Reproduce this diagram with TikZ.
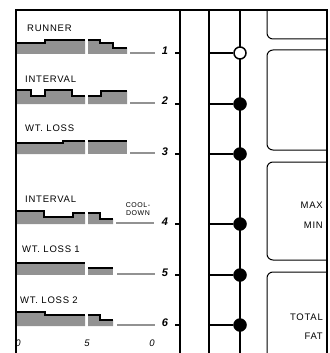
\documentclass[tikz,border=0pt]{standalone}
\usepackage{fontspec}
\setmainfont{Liberation Sans}
\newfontfamily\lblfont[LetterSpace=8]{Liberation Sans}
\usetikzlibrary{backgrounds}
\pgfdeclarelayer{edgelayer}
\pgfdeclarelayer{nodelayer}
\pgfsetlayers{edgelayer,nodelayer,main}
\definecolor{bargray}{RGB}{146,146,146}
\tikzset{font=\lblfont\fontsize{9.5}{10}\selectfont}
\tikzstyle{none}=[inner sep=0pt]
\tikzstyle{dot}=[circle,fill=black,draw,inner sep=0pt,minimum size=13pt]
\tikzstyle{ring}=[circle,fill=white,draw,line width=1.5pt,inner sep=0pt,minimum size=12pt]
\tikzstyle{wire}=[line width=2pt]
\tikzstyle{bar}=[fill=bargray]
\tikzstyle{trace}=[line width=2pt]
\tikzstyle{lead}=[draw=bargray,line width=1.5pt]
\tikzstyle{panel}=[line width=1pt,rounded corners=6pt]
\tikzstyle{lbl}=[inner sep=0pt,anchor=west]
\tikzstyle{side}=[inner sep=0pt,anchor=east]
\tikzstyle{num}=[inner sep=0pt,font=\bfseries\itshape\fontsize{11}{12}\selectfont]
\tikzstyle{scl}=[inner sep=0pt,font=\itshape\fontsize{9.5}{10}\selectfont]

\begin{document}
\begin{tikzpicture}[x=1pt,y=-1pt]
	\useasboundingbox (0,0) rectangle (329,353);
	\begin{pgfonlayer}{nodelayer}
		\node [style=ring] (c1) at (240, 53) {};
		\node [style=dot] (c2) at (240, 104) {};
		\node [style=dot] (c3) at (240, 154) {};
		\node [style=dot] (c4) at (240, 224) {};
		\node [style=dot] (c5) at (240, 275) {};
		\node [style=dot] (c6) at (240, 325) {};
		\coordinate (h1) at (209, 53);
		\coordinate (h2) at (209, 104);
		\coordinate (h3) at (209, 154);
		\coordinate (h4) at (209, 224);
		\coordinate (h5) at (209, 275);
		\coordinate (h6) at (209, 325);
		\coordinate (top) at (240, 10);
		\coordinate (bot) at (240, 353);
		\node [style=num] (n1) at (165, 51) {1};
		\node [style=num] (n2) at (165, 101) {2};
		\node [style=num] (n3) at (165, 152) {3};
		\node [style=num] (n4) at (165, 222) {4};
		\node [style=num] (n5) at (165, 273) {5};
		\node [style=num] (n6) at (165, 323) {6};
		\node [style=lbl] (l1) at (27, 28) {RUNNER};
		\node [style=lbl] (l2) at (25, 79) {INTERVAL};
		\node [style=lbl] (l3) at (25, 128) {WT. LOSS};
		\node [style=lbl] (l4) at (25, 199) {INTERVAL};
		\node [style=lbl] (l5) at (22, 249) {WT. LOSS 1};
		\node [style=lbl] (l6) at (20, 300) {WT. LOSS 2};
		\node [style=none,font=\lblfont\fontsize{7}{8}\selectfont,align=center] (cd) at (138, 209) {COOL-\\DOWN};
		\node [style=side] (mx) at (323, 205) {MAX};
		\node [style=side] (mn) at (323, 225) {MIN};
		\node [style=side] (tt) at (323, 317) {TOTAL};
		\node [style=side] (ft) at (323, 336) {FAT};
		\node [style=scl] (s0) at (18, 343) {0};
		\node [style=scl] (s5) at (87, 343) {5};
		\node [style=scl] (s10) at (152, 343) {0};
	\end{pgfonlayer}
	\begin{pgfonlayer}{edgelayer}
		\draw[wire] (top) to (bot);
		\foreach \i in {1,...,6}
			\draw[wire] (h\i) to (c\i);
		% bars
		\fill[bar] (17,54) -- (17,43) -- (45,43) -- (45,40) -- (85,40) -- (85,54) -- cycle;
		\fill[bar] (88,54) -- (88,40) -- (100,40) -- (100,43) -- (113,43) -- (113,48) -- (127,48) -- (127,54) -- cycle;
		\draw[trace] (17,43) -- (45,43) -- (45,40) -- (85,40);
		\draw[trace] (88,40) -- (100,40) -- (100,43) -- (113,43) -- (113,48) -- (127,48);
		\fill[bar] (17,104) -- (17,90) -- (31,90) -- (31,96) -- (45,96) -- (45,90) -- (72,90) -- (72,96) -- (85,96) -- (85,104) -- cycle;
		\fill[bar] (88,104) -- (88,96) -- (101,96) -- (101,91) -- (127,91) -- (127,104) -- cycle;
		\draw[trace] (17,90) -- (31,90) -- (31,96) -- (45,96) -- (45,90) -- (72,90) -- (72,96) -- (85,96);
		\draw[trace] (88,96) -- (101,96) -- (101,91) -- (127,91);
		\fill[bar] (17,154) -- (17,143) -- (63,143) -- (63,141) -- (85,141) -- (85,154) -- cycle;
		\fill[bar] (88,154) -- (88,141) -- (127,141) -- (127,154) -- cycle;
		\draw[trace] (17,143) -- (63,143) -- (63,141) -- (85,141);
		\draw[trace] (88,141) -- (127,141);
		\fill[bar] (17,224) -- (17,211) -- (44,211) -- (44,217) -- (73,217) -- (73,213) -- (85,213) -- (85,224) -- cycle;
		\fill[bar] (88,224) -- (88,213) -- (100,213) -- (100,219) -- (113,219) -- (113,224) -- cycle;
		\draw[trace] (17,211) -- (44,211) -- (44,217) -- (73,217) -- (73,213) -- (85,213);
		\draw[trace] (88,213) -- (100,213) -- (100,219) -- (113,219);
		\fill[bar] (17,275) -- (17,263) -- (85,263) -- (85,275) -- cycle;
		\fill[bar] (88,275) -- (88,268) -- (113,268) -- (113,275) -- cycle;
		\draw[trace] (17,263) -- (85,263);
		\draw[trace] (88,268) -- (113,268);
		\fill[bar] (17,326) -- (17,312) -- (45,312) -- (45,315) -- (85,315) -- (85,326) -- cycle;
		\fill[bar] (88,326) -- (88,315) -- (100,315) -- (100,320) -- (113,320) -- (113,326) -- cycle;
		\draw[trace] (17,312) -- (45,312) -- (45,315) -- (85,315);
		\draw[trace] (88,315) -- (100,315) -- (100,320) -- (113,320);
		% leads and ticks
		\draw[lead] (130,53) -- (155,53);
		\draw[lead] (130,103) -- (155,103);
		\draw[lead] (130,153) -- (155,153);
		\draw[lead] (116,223) -- (154,223);
		\draw[lead] (117,274) -- (155,274);
		\draw[lead] (117,325) -- (155,325);
		\foreach \y in {53,104,154,224,275,325}
			\draw[wire] (175,\y) -- (180,\y);
		% panels
		\draw[panel] (267,10) -- (267,39) -- (327,39);
		\draw[panel] (327,50) -- (267,50) -- (267,150) -- (327,150);
		\draw[panel] (327,162) -- (267,162) -- (267,260) -- (327,260);
		\draw[panel] (327,272) -- (267,272) -- (267,353);
	\end{pgfonlayer}
	\draw[wire] (16,353) -- (16,10) -- (327,10) -- (327,353);
	\draw[wire] (180,10) -- (180,353);
	\draw[wire] (209,10) -- (209,353);
\end{tikzpicture}
\end{document}
